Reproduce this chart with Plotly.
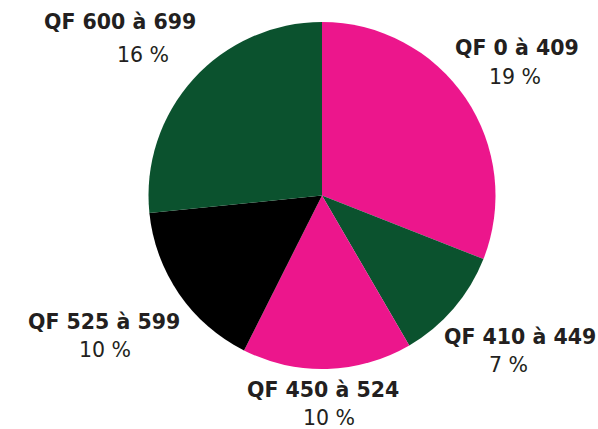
import plotly.graph_objects as go

labels = ["QF 0 à 409", "QF 410 à 449", "QF 450 à 524", "QF 525 à 599", "QF 600 à 699"]
# slice sizes (displayed labels are rounded)
values = [19.2, 6.6, 9.8, 9.9, 16.5]
pct_text = ["19 %", "7 %", "10 %", "10 %", "16 %"]
colors = ["#EC168C", "#0B522E", "#EC168C", "#000000", "#0B522E"]

# label anchor positions (pixels, centre of bold label line / percentage line)
W, H = 598, 429
label_pos = [(517, 48), (520, 337), (323, 390), (104, 322), (120, 22)]
pct_pos = [(515, 77), (508, 365), (329, 418), (105, 350), (143, 55)]

fig = go.Figure(go.Pie(
    labels=labels,
    values=values,
    sort=False,
    direction="clockwise",
    rotation=0,
    marker=dict(colors=colors, line=dict(width=0)),
    textinfo="none",
    hoverinfo="label",
    showlegend=False,
    domain=dict(x=[(322 - 173.5) / W, (322 + 173.5) / W],
                y=[1 - 369 / H, 1 - 22 / H]),
))

txt_color = "#231F20"
for lab, pct, (lx, ly), (px, py) in zip(labels, pct_text, label_pos, pct_pos):
    fig.add_annotation(x=lx / W, y=1 - ly / H, xref="paper", yref="paper",
                       text="<b>" + lab + "</b>", showarrow=False,
                       xanchor="center", yanchor="middle",
                       font=dict(size=20.5, color=txt_color, family="DejaVu Sans"))
    fig.add_annotation(x=px / W, y=1 - py / H, xref="paper", yref="paper",
                       text=pct, showarrow=False,
                       xanchor="center", yanchor="middle",
                       font=dict(size=20.5, color=txt_color, family="DejaVu Sans"))

fig.update_layout(
    width=W, height=H,
    margin=dict(l=0, r=0, t=0, b=0),
    paper_bgcolor="white",
    plot_bgcolor="white",
)

fig.write_html("out.html",
               config={"displayModeBar": False},
               post_script="document.body.style.margin='0';document.body.style.overflow='hidden';")
